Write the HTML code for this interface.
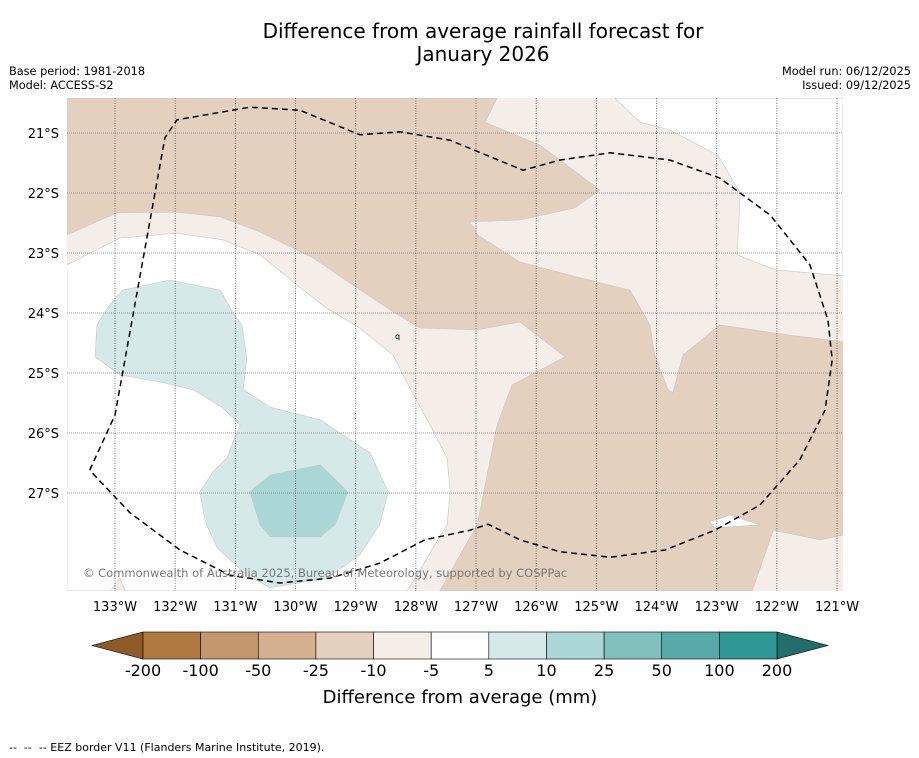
<!DOCTYPE html>
<html><head><meta charset="utf-8"><style>
body{margin:0;background:#fff;width:919px;height:758px;overflow:hidden;font-family:"Liberation Sans","DejaVu Sans",sans-serif}
svg{display:block}
</style></head><body>
<svg id="chart" width="919" height="758" viewBox="0 0 919 758" font-family="DejaVu Sans, Liberation Sans, sans-serif">
<rect width="919" height="758" fill="#fefefe"/>
<text x="483" y="38" font-size="20" text-anchor="middle">Difference from average rainfall forecast for</text>
<text x="483" y="61" font-size="20" text-anchor="middle">January 2026</text>
<text x="9" y="75" font-size="11.3">Base period: 1981-2018</text>
<text x="9" y="89" font-size="11.3">Model: ACCESS-S2</text>
<text x="911" y="75" font-size="11.3" text-anchor="end">Model run: 06/12/2025</text>
<text x="911" y="89" font-size="11.3" text-anchor="end">Issued: 09/12/2025</text>
<defs><clipPath id="mapclip"><rect x="67" y="98" width="776" height="493"/></clipPath></defs>
<g id="map" clip-path="url(#mapclip)"></g>
<g id="axes"></g>
<text x="83" y="577" font-size="11.5" fill="#777">© Commonwealth of Australia 2025, Bureau of Meteorology, supported by COSPPac</text>
<g id="cbar"></g>
<text x="460" y="703" font-size="18" text-anchor="middle">Difference from average (mm)</text>
<text x="9" y="751" font-size="11" xml:space="preserve" style="white-space:pre">--  --  -- EEZ border V11 (Flanders Marine Institute, 2019).</text>
</svg>
<script>
// Data (longitude in degrees W, latitude in degrees S)
const lonTicks = [133,132,131,130,129,128,127,126,125,124,123,122,121];
const latTicks = [21,22,23,24,25,26,27];
const mapExtent = {wWest:133.8, wEast:120.9, sNorth:20.42, sSouth:28.63};
const tanRegion = [[133.80,20.42],[126.65,20.42],[126.85,20.82],[125.94,21.20],[124.94,21.95],[125.36,22.25],[126.27,22.45],[127.10,22.48],[126.97,22.70],[126.27,23.15],[125.44,23.37],[124.44,23.62],[124.11,24.20],[124.03,24.70],[123.81,25.28],[123.73,25.33],[123.56,24.70],[122.95,24.20],[121.78,24.37],[120.90,24.48],[120.90,27.70],[121.28,27.78],[122.06,27.62],[122.41,28.63],[127.60,28.63],[126.98,27.53],[126.65,25.87],[126.40,25.20],[125.52,24.73],[126.27,24.15],[126.98,24.28],[127.93,24.25],[128.38,23.98],[128.98,23.58],[129.71,23.08],[130.59,22.65],[131.25,22.40],[131.97,22.32],[132.97,22.33],[133.80,22.70]];
const whiteNE = [[124.69,20.42],[124.27,20.82],[123.78,20.95],[122.98,21.37],[122.61,22.00],[122.66,23.03],[122.03,23.28],[120.90,23.38],[120.90,20.42]];
const whiteNotch = [[123.11,27.48],[122.78,27.37],[122.28,27.53],[123.03,27.58]];
const whiteW = [[133.80,23.20],[132.92,22.75],[131.97,22.67],[131.21,22.78],[130.59,23.03],[129.98,23.53],[129.48,23.92],[128.93,24.25],[128.38,24.70],[128.10,25.25],[127.76,25.87],[127.48,26.42],[127.43,26.98],[127.48,27.53],[127.72,27.92],[127.98,28.37],[128.15,28.63],[132.83,28.63],[132.92,28.42],[133.08,28.63],[133.80,28.63]];
const tealLight = [[132.88,23.62],[132.09,23.45],[131.25,23.62],[131.04,24.00],[130.89,24.20],[130.81,24.75],[130.87,25.28],[130.42,25.57],[129.59,25.78],[128.76,26.33],[128.46,26.98],[128.60,27.53],[128.93,28.03],[129.48,28.42],[130.42,28.58],[130.81,28.37],[131.30,27.92],[131.50,27.48],[131.59,26.98],[131.37,26.65],[131.14,26.42],[131.04,26.15],[130.92,25.87],[131.21,25.58],[131.70,25.28],[132.25,25.15],[132.92,25.03],[133.33,24.73],[133.30,24.20],[133.13,23.92]];
const tealDark = [[130.76,26.98],[130.42,26.70],[129.59,26.53],[129.13,26.98],[129.34,27.53],[129.59,27.73],[130.42,27.73],[130.59,27.53]];
const eezLine = [[133.42,26.62],[133.00,25.70],[132.17,21.08],[131.97,20.78],[130.76,20.57],[129.93,20.62],[128.93,21.03],[128.26,20.98],[127.43,21.12],[126.22,21.62],[125.60,21.45],[124.77,21.33],[123.78,21.45],[122.95,21.75],[122.11,22.37],[121.45,23.20],[121.15,24.12],[121.08,24.78],[121.20,25.62],[121.62,26.45],[122.28,27.20],[123.03,27.62],[123.86,27.95],[124.77,28.07],[125.60,27.98],[126.27,27.78],[126.80,27.52],[127.10,27.62],[127.85,27.78],[128.60,28.17],[129.43,28.42],[130.26,28.50],[131.09,28.37],[131.92,27.95],[132.75,27.33],[133.42,26.62]];
// Colorbar data
const cbLabels = ["-200","-100","-50","-25","-10","-5","5","10","25","50","100","200"];
const cbColors = ["#b07942","#c4966b","#d5b08f","#e3d0bf","#f4ede8","#ffffff","#d5e9e8","#aad6d5","#80c0bd","#58aaa8","#2f9894"];
const cbUnder = "#8e5a28";
const cbOver = "#236e6b";

const X = w => 115 + (133 - w) * 60.17;
const Y = s => 133 + (s - 21) * 60;
const NS = "http://www.w3.org/2000/svg";
function mk(tag, attrs, parent){const e=document.createElementNS(NS,tag);for(const k in attrs)e.setAttribute(k,attrs[k]);parent.appendChild(e);return e;}
const pts = arr => arr.map(p => X(p[0]).toFixed(1)+","+Y(p[1]).toFixed(1)).join(" ");

const map = document.getElementById("map");
let e;
e = mk("rect",{x:X(mapExtent.wWest),y:Y(mapExtent.sNorth),width:X(mapExtent.wEast)-X(mapExtent.wWest),height:Y(mapExtent.sSouth)-Y(mapExtent.sNorth),fill:"#f4ede8"},map);


const regions = [[tanRegion,"#e3d0bf","region-dry-10-25"],[whiteNE,"#ffffff","region-near-average-ne"],[whiteNotch,"#ffffff","region-near-average-notch"],[whiteW,"#ffffff","region-near-average-west"],[tealLight,"#d5e9e8","region-wet-5-10"],[tealDark,"#aad6d5","region-wet-10-25"]];
regions.forEach(r=>{
  e = mk("polygon",{points:pts(r[0]),fill:r[1],stroke:"#c8c8c8","stroke-width":0.6},map);
  
  
});
// grid
lonTicks.forEach(w=>{
  e = mk("line",{x1:X(w),x2:X(w),y1:98,y2:591,stroke:"#555","stroke-width":0.8,"stroke-dasharray":"1,1.5"},map);
  
  
});
latTicks.forEach(s=>{
  e = mk("line",{x1:67,x2:843,y1:Y(s),y2:Y(s),stroke:"#777","stroke-width":0.8,"stroke-dasharray":"1,1"},map);
  
  
});
e = mk("polyline",{points:pts(eezLine),fill:"none",stroke:"#000","stroke-width":1.5,"stroke-dasharray":"6,4"},map);


e = mk("text",{x:395,y:339,"font-size":8},map); e.textContent="q";



const axes = document.getElementById("axes");
lonTicks.forEach(w=>{
  e = mk("text",{x:X(w),y:611,"font-size":13,"text-anchor":"middle"},axes); e.textContent=w+"°W";
  
  
});
latTicks.forEach(s=>{
  e = mk("text",{x:59,y:Y(s)+5,"font-size":13,"text-anchor":"end"},axes); e.textContent=s+"°S";
  
  
});

const cb = document.getElementById("cbar");
const cx0=143, cx1=777, cy=632, ch=27, cw=(cx1-cx0)/cbColors.length;
e = mk("polygon",{points:`${cx0},${cy} ${cx0},${cy+ch} 92,${cy+ch/2}`,fill:cbUnder,stroke:"#000","stroke-width":0.6},cb);


e = mk("polygon",{points:`${cx1},${cy} ${cx1},${cy+ch} 828,${cy+ch/2}`,fill:cbOver,stroke:"#000","stroke-width":0.6},cb);


cbColors.forEach((c,i)=>{
  e = mk("rect",{x:cx0+i*cw,y:cy,width:cw,height:ch,fill:c,stroke:"#000","stroke-width":0.6},cb);
  
  
});
cbLabels.forEach((l,i)=>{
  e = mk("text",{x:cx0+i*cw,y:676,"font-size":16,"text-anchor":"middle"},cb); e.textContent=l;
  
  
});
</script>
</body></html>
